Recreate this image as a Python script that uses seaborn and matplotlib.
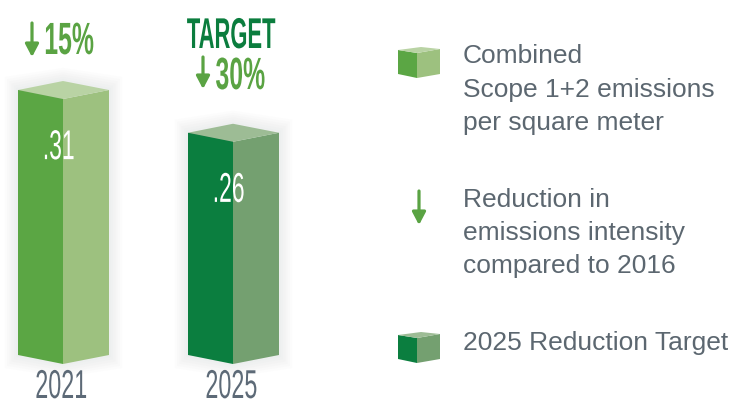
import numpy as np
import pandas as pd
import seaborn as sns
import matplotlib.pyplot as plt
from matplotlib.patches import Polygon
from matplotlib.patheffects import AbstractPathEffect
from matplotlib.transforms import Affine2D

# data
years = ['2021', '2025']
values = [0.31, 0.26]
value_labels = ['.31', '.26']
reductions = ['15%', '30%']
front_colors = ['#5ba644', '#0b7e3f']
side_colors = ['#9dc17f', '#74a070']
top_colors = ['#b9d3a4', '#9dbc95']

legend_blocks = [
    ['Combined', 'Scope 1+2 emissions', 'per square meter'],
    ['Reduction in', 'emissions intensity', 'compared to 2016'],
    ['2025 Reduction Target'],
]

GREEN = '#5aa343'
DARK_GREEN = '#0b7d3e'
GREY = '#5c6770'
YEAR_GREY = '#5d6a77'

W, H = 735, 407
PX_PER_UNIT = 854.8   # pixels per value unit
BASE = 355            # pixel row of value 0
CAT_PX = 170          # pixels between categories
X0 = 40.5             # pixel column of the first category


class Squeeze(AbstractPathEffect):
    """narrow the glyphs horizontally, like a condensed display face"""
    def __init__(self, sx, anchor='center'):
        super().__init__()
        self.sx = sx
        self.anchor = anchor

    def draw_path(self, renderer, gc, tpath, affine, rgbFace=None):
        ext = tpath.get_extents()
        cx = ext.x0 if self.anchor == 'left' else (ext.x0 + ext.x1) / 2
        t = Affine2D().translate(-cx, 0).scale(self.sx, 1).translate(cx, 0) + affine
        renderer.draw_path(gc, tpath, t, rgbFace)


def fp(x, y):
    return x / W, 1 - y / H


def down_arrow(x, y1, y2):
    fig.add_artist(plt.Annotation(
        '', xy=fp(x, y2), xytext=fp(x, y1), xycoords='figure fraction',
        textcoords='figure fraction',
        arrowprops=dict(arrowstyle='-|>,head_length=0.38,head_width=0.2',
                        lw=2.3, color=GREEN, mutation_scale=20,
                        shrinkA=0, shrinkB=0)))


sns.set_style('white')
plt.rcParams['font.family'] = ['Liberation Sans', 'DejaVu Sans']

fig = plt.figure(figsize=(7.35, 4.07), dpi=100)
ax = fig.add_axes([0, 0, 1, 1])

df = pd.DataFrame({'year': years, 'value': values})
w = 45 / CAT_PX
sw = 46 / CAT_PX
d = 9 / PX_PER_UNIT

sns.barplot(data=df, x='year', y='value', hue='year', palette=front_colors,
            width=w, linewidth=0, legend=False, ax=ax, zorder=3)

ax.set_xlim(-X0 / CAT_PX, (W - X0) / CAT_PX)
ax.set_ylim(-(H - BASE) / PX_PER_UNIT, BASE / PX_PER_UNIT)
ax.axis('off')

# 3d prism faces on top of the seaborn bars
for i, bar in enumerate(ax.patches):
    xl = bar.get_x()
    xm = xl + bar.get_width()
    xr = xm + sw
    v = bar.get_height()
    # soft shadow
    for k in range(1, 7):
        e = k * 2.2 / CAT_PX
        ey = k * 2.2 / PX_PER_UNIT
        outline = [(xl - e, -ey), (xm, -d - ey), (xr + e, -ey), (xr + e, v + ey),
                   (xm, v + d + ey), (xl - e, v + ey)]
        ax.add_patch(Polygon(outline, closed=True, color='#9aa0a0', alpha=0.025,
                             lw=0, zorder=1))
    front = [(xl, 0), (xm, -d), (xm, v - d), (xl, v)]
    side = [(xm, -d), (xr, 0), (xr, v), (xm, v - d)]
    top = [(xl, v), (xm, v - d), (xr, v), (xm, v + d)]
    ax.add_patch(Polygon(front, closed=True, color=front_colors[i], lw=0, zorder=4))
    ax.add_patch(Polygon(side, closed=True, color=side_colors[i], lw=0, zorder=4))
    ax.add_patch(Polygon(top, closed=True, color=top_colors[i], lw=0, zorder=4))

    ax.text(xm - 0.028, v - 0.068, value_labels[i], color='white', fontsize=30,
            ha='center', va='center', zorder=6, path_effects=[Squeeze(0.55)])
    ax.text(xm - 0.01, (BASE - 398) / PX_PER_UNIT, years[i], color=YEAR_GREY,
            fontsize=29, ha='center', va='baseline', zorder=6,
            path_effects=[Squeeze(0.58)])

# reduction call-outs above the bars
pct_pos = [(43, 54), (215, 89)]
arrow_pos = [(32, 23, 57), (203, 57, 89)]
for i, lab in enumerate(reductions):
    fig.text(*fp(*pct_pos[i]), lab, color=GREEN, fontsize=32.5, fontweight='bold',
             ha='left', va='baseline', path_effects=[Squeeze(0.55, 'left')])
    down_arrow(*arrow_pos[i])
fig.text(*fp(231, 48), 'TARGET', color=DARK_GREEN, fontsize=31,
         fontweight='bold', ha='center', va='baseline',
         path_effects=[Squeeze(0.51)])


# legend
def cube(x0, y0, colors):
    front = [(x0, y0 + 3), (x0 + 19, y0 + 6), (x0 + 19, y0 + 31), (x0, y0 + 27)]
    side = [(x0 + 19, y0 + 6), (x0 + 42, y0 + 2), (x0 + 42, y0 + 27), (x0 + 19, y0 + 31)]
    top = [(x0, y0 + 3), (x0 + 19, y0 + 6), (x0 + 42, y0 + 2), (x0 + 23, y0)]
    for pts, c in zip([front, side, top], colors):
        fig.add_artist(Polygon([fp(*p) for p in pts], closed=True, color=c, lw=0,
                               transform=fig.transFigure))


cube(398, 47, [front_colors[0], side_colors[0], top_colors[0]])
cube(398, 332, [front_colors[1], side_colors[1], top_colors[1]])
down_arrow(419, 191, 225)

baselines = [[63, 97, 130], [207, 240, 273], [350]]
for lines, ys in zip(legend_blocks, baselines):
    for line, y in zip(lines, ys):
        fig.text(*fp(463, y), line, color=GREY, fontsize=19, ha='left',
                 va='baseline')

fig.savefig('out.png', dpi=100)
